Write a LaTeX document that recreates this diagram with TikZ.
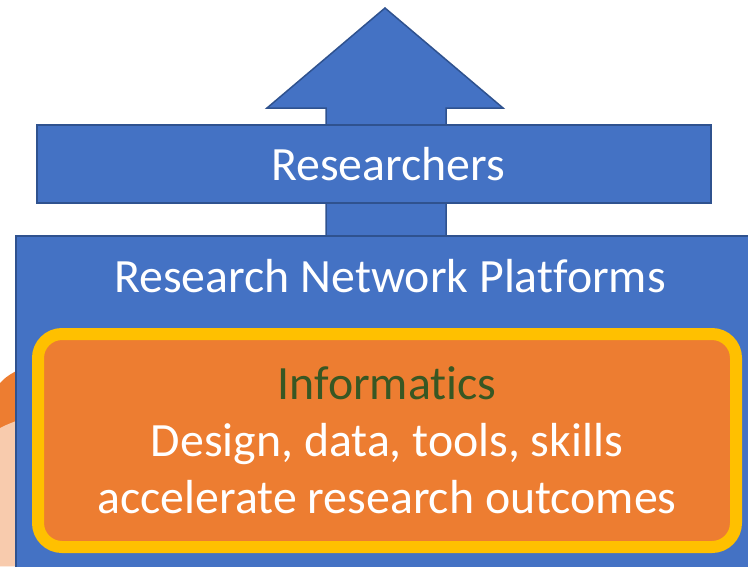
\documentclass[tikz,border=0pt]{standalone}
\usepackage{fontspec}
\setmainfont{Carlito}[Ligatures=NoCommon]
\usetikzlibrary{positioning}
\definecolor{azul}{HTML}{4472C4}
\definecolor{azulborde}{HTML}{2F528F}
\definecolor{naranja}{HTML}{ED7D31}
\definecolor{amarillo}{HTML}{FFC000}
\definecolor{durazno}{HTML}{F8CBAD}
\definecolor{verde}{HTML}{385723}
\tikzstyle{bluebar} = [draw=azulborde, fill=azul, line width=1.5pt, rectangle]
\tikzstyle{bigtext} = [text=white, font=\fontsize{47.8}{57}\selectfont]
\tikzstyle{infobox} = [draw=amarillo, fill=naranja, line width=12pt, rounded corners=24pt, align=center, inner sep=0pt]

\begin{document}
\begin{tikzpicture}[x=1pt,y=-1pt]
\useasboundingbox (0,0) rectangle (748,566);
% peach shape at the left edge
\fill[naranja] (0,383) .. controls (6,377) .. (16,371) -- (16,566) -- (0,566) -- cycle;
\fill[durazno] (0,428) .. controls (6,425) .. (16,421) -- (16,566) -- (0,566) -- cycle;
% big arrow behind the bars
\draw[bluebar, line join=miter] (385,8) -- (503,108) -- (446,108) -- (446,240) -- (326,240) -- (326,108) -- (267,108) -- cycle;
\node[bluebar, minimum width=674pt, minimum height=78pt] (researchers) at (374,164) {};
\node[bigtext] (researcherslabel) at (388,164) {Researchers};
\node[bluebar, minimum width=760pt, minimum height=360pt, anchor=north west] (platforms) at (15,235) {};
\node[bigtext] (platlabel) at (390,276) {Research Network Platforms};
\node[infobox, bigtext, minimum width=698pt, minimum height=213pt] (informatics) at (387,440.5)
  {{\color{verde}Informatics}\\Design, data, tools, skills\\accelerate research outcomes};
\end{tikzpicture}
\end{document}
